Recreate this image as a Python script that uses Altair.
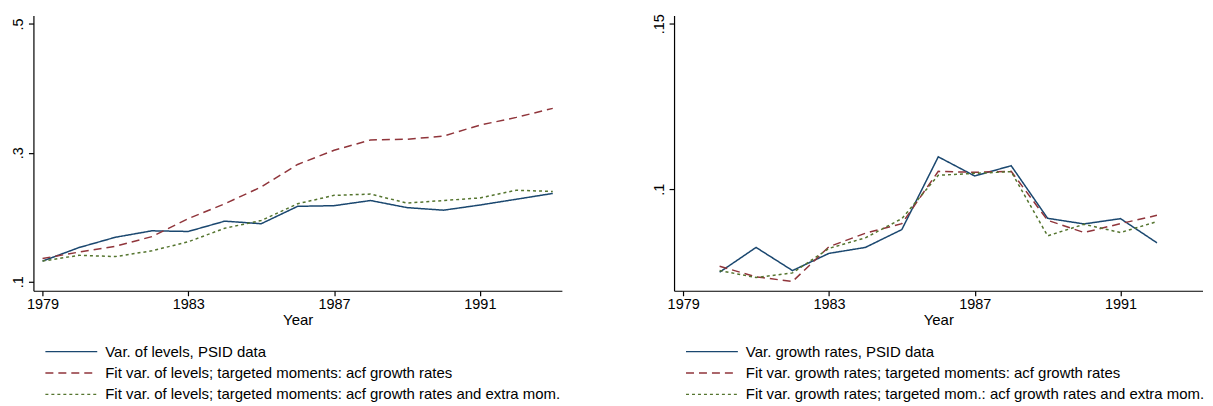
import altair as alt
import pandas as pd

# ---- data ----
years_lev = list(range(1979, 1994))
lev_psid = [0.132, 0.153, 0.169, 0.179, 0.178, 0.194, 0.190, 0.217, 0.218, 0.226, 0.215, 0.211, 0.219, 0.228, 0.237]
lev_fit = [0.136, 0.146, 0.155, 0.170, 0.198, 0.221, 0.247, 0.282, 0.304, 0.320, 0.321, 0.326, 0.343, 0.355, 0.369]
lev_fit_extra = [0.132, 0.141, 0.139, 0.148, 0.162, 0.183, 0.195, 0.221, 0.234, 0.236, 0.222, 0.226, 0.230, 0.242, 0.240]

years_gr = list(range(1980, 1993))
gr_psid = [0.0749, 0.0824, 0.0754, 0.0806, 0.0824, 0.0878, 0.1098, 0.1040, 0.1071, 0.0912, 0.0895, 0.0911, 0.0838]
gr_fit = [0.0767, 0.0735, 0.0721, 0.0826, 0.0867, 0.0896, 0.1054, 0.1051, 0.1054, 0.0906, 0.0869, 0.0896, 0.0921]
gr_fit_extra = [0.0754, 0.0733, 0.0747, 0.0821, 0.0853, 0.0911, 0.1042, 0.1048, 0.1053, 0.0859, 0.0894, 0.0869, 0.0902]

names_lev = [
    "Var. of levels, PSID data",
    "Fit var. of levels; targeted moments: acf growth rates",
    "Fit var. of levels; targeted moments: acf growth rates and extra mom.",
]
names_gr = [
    "Var. growth rates, PSID data",
    "Fit var. growth rates; targeted moments: acf growth rates",
    "Fit var. growth rates; targeted mom.: acf growth rates and extra mom.",
]

x_ticks = [1979, 1983, 1987, 1991]
y_ticks_lev = [0.1, 0.3, 0.5]
y_ticks_gr = [0.1, 0.15]

colors = ["#1a476f", "#90353b", "#55752f"]
dashes = [[1, 0], [8, 5], [3, 3]]


def long_df(years, series, names):
    rows = []
    for k, (name, vals) in enumerate(zip(names, series)):
        for yr, v in zip(years, vals):
            rows.append({"year": yr, "value": v, "series": name, "order": k})
    return pd.DataFrame(rows)


df_lev = long_df(years_lev, [lev_psid, lev_fit, lev_fit_extra], names_lev)
df_gr = long_df(years_gr, [gr_psid, gr_fit, gr_fit_extra], names_gr)

FONT = "Liberation Sans"
W, H = 530, 276


def panel(df, names, ydom, yticks):
    leg = alt.Legend(
        title=None,
        orient="none",
        legendX=30.5,
        legendY=329.5,
        direction="vertical",
        symbolType="M-4,0H4",
        symbolSize=169,
        symbolStrokeWidth=1.3,
        labelOffset=26.5,
        labelFont=FONT,
        labelFontSize=15,
        labelColor="#000000",
        labelLimit=800,
        rowPadding=5.5,
        padding=0,
    )
    return alt.Chart(df).mark_line(strokeWidth=1.5, clip=True).encode(
        x=alt.X(
            "year:Q",
            scale=alt.Scale(domain=[1978.75, 1993.25], nice=False, zero=False),
            axis=alt.Axis(values=x_ticks, format="d", title="Year", grid=False,
                          tickSize=5, labelPadding=2, titlePadding=1),
        ),
        y=alt.Y(
            "value:Q",
            scale=alt.Scale(domain=ydom, nice=False, zero=False),
            axis=alt.Axis(values=yticks, title=None, grid=False, labelAngle=270,
                          labelAlign="center", labelBaseline="bottom",
                          labelExpr="substring(toString(datum.value), 1)",
                          tickSize=5, labelPadding=3),
        ),
        color=alt.Color("series:N", scale=alt.Scale(domain=names, range=colors), legend=leg),
        strokeDash=alt.StrokeDash("series:N", scale=alt.Scale(domain=names, range=dashes), legend=leg),
        order=alt.Order("order:Q"),
    ).properties(width=W, height=H)


left = panel(df_lev, names_lev, [0.086, 0.513], y_ticks_lev)
right = panel(df_gr, names_gr, [0.0693, 0.1525], y_ticks_gr)

chart = alt.hconcat(left, right, spacing=89.5).resolve_scale(
    color="independent", strokeDash="independent"
).resolve_legend(color="independent", strokeDash="independent").configure_view(
    stroke=None
).configure_axis(
    domainColor="#000000",
    tickColor="#000000",
    labelColor="#000000",
    titleColor="#000000",
    labelFont=FONT,
    titleFont=FONT,
    labelFontSize=14.5,
    titleFontSize=15,
    titleFontWeight="normal",
    domainWidth=1.2,
    tickWidth=1.2,
).properties(padding={"left": 2.5, "top": 5, "right": 0, "bottom": 0})

chart.save("out.html", embed_options={"renderer": "svg", "actions": False})
